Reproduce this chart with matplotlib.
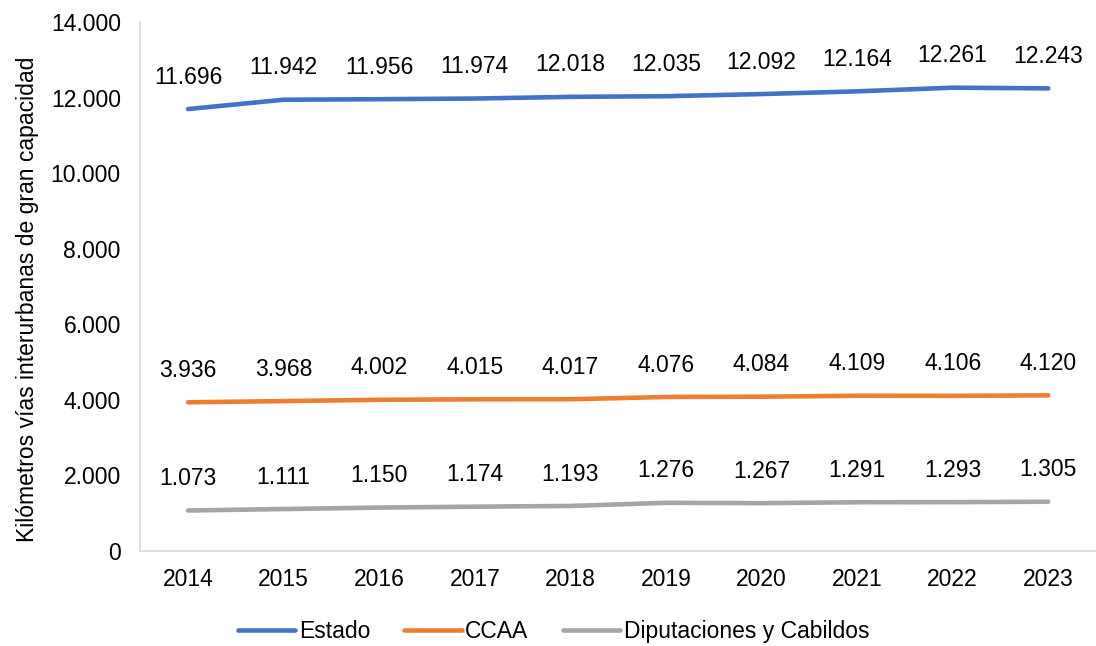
import numpy as np
import matplotlib.pyplot as plt
from matplotlib.ticker import FuncFormatter

plt.rcParams['font.family'] = ['Liberation Sans', 'DejaVu Sans']

# data
years = ['2014', '2015', '2016', '2017', '2018', '2019', '2020', '2021', '2022', '2023']
estado = [11696, 11942, 11956, 11974, 12018, 12035, 12092, 12164, 12261, 12243]
ccaa = [3936, 3968, 4002, 4015, 4017, 4076, 4084, 4109, 4106, 4120]
diputaciones = [1073, 1111, 1150, 1174, 1193, 1276, 1267, 1291, 1293, 1305]


def miles(v, pos=None):
    return '{:,.0f}'.format(v).replace(',', '.')


fig = plt.figure(figsize=(10.96, 6.46), dpi=100)
ax = fig.add_axes([0.128, 0.147, 0.872, 0.819])

x = np.arange(len(years))
series = [(estado, '#4472C4', 'Estado'),
          (ccaa, '#ED7D31', 'CCAA'),
          (diputaciones, '#A5A5A5', 'Diputaciones y Cabildos')]
for vals, col, name in series:
    ax.plot(x, vals, color=col, lw=3.3, label=name, solid_capstyle='round')
    for xi, v in zip(x, vals):
        ax.annotate(miles(v), (xi, v), xytext=(0, 23), textcoords='offset points',
                    ha='center', va='center', fontsize=16.5)

ax.set_xlim(-0.5, len(years) - 0.5)
ax.set_ylim(0, 14000)
ax.set_yticks(np.arange(0, 14001, 2000))
ax.yaxis.set_major_formatter(FuncFormatter(miles))
ax.set_xticks(x)
ax.set_xticklabels(years)
ax.tick_params(axis='both', labelsize=16.5, length=0)
ax.tick_params(axis='x', pad=12)
ax.tick_params(axis='y', pad=14)
ax.set_ylabel('Kilómetros vías interurbanas de gran capacidad', fontsize=16.5)
ax.yaxis.set_label_coords(-0.106, 0.475)

for s in ['top', 'right']:
    ax.spines[s].set_visible(False)
for s in ['left', 'bottom']:
    ax.spines[s].set_color('#D9D9D9')
    ax.spines[s].set_linewidth(1.2)

fig.legend(loc='center', bbox_to_anchor=(0.505, 0.023), ncol=3, frameon=False,
           fontsize=16.5, handlelength=2.5, handletextpad=0.15, columnspacing=1.5)

fig.savefig('out.png', dpi=100)
